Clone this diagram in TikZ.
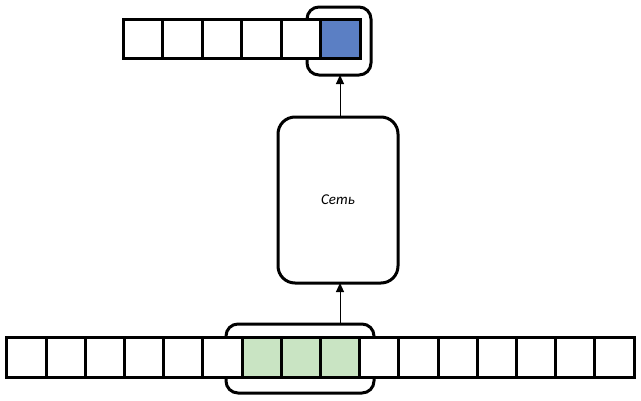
\documentclass[tikz,border=0pt]{standalone}
\usepackage{fontspec}
\setmainfont{Carlito}
\usetikzlibrary{arrows.meta}
\definecolor{cellblue}{HTML}{5B7FC4}
\definecolor{cellgreen}{HTML}{C9E4C3}
\tikzset{
  cell/.style={draw=black, line width=3pt, fill=white, minimum width=39.3pt, minimum height=39.5pt, inner sep=0pt, outer sep=0pt},
  bracket/.style={draw=black, line width=3pt, rounded corners=12pt, inner sep=0pt, outer sep=0pt},
  netbox/.style={draw=black, line width=3pt, rounded corners=17pt, fill=white, minimum width=120pt, minimum height=166pt, inner sep=0pt, outer sep=0pt, font=\itshape\fontsize{15}{18}\selectfont},
  link/.style={draw=black, line width=1pt, -{Triangle[length=9pt,width=8pt]}}
}
\begin{document}
\begin{tikzpicture}[x=1pt,y=-1pt]
\useasboundingbox (0,0) rectangle (641,400);
% brackets (behind cells)
\node[bracket, minimum width=148pt, minimum height=69pt] (bb) at (300,358.5) {};
\node[bracket, minimum width=64pt, minimum height=68pt] (bt) at (339,41) {};
% bottom row
\foreach \i in {0,...,15} {
  \pgfmathsetmacro{\cx}{7+39.2*\i+19.6}
  \ifnum\i>5 \ifnum\i<9
    \node[cell, fill=cellgreen] (b\i) at (\cx,357.5) {};
  \else
    \node[cell] (b\i) at (\cx,357.5) {};
  \fi\else
    \node[cell] (b\i) at (\cx,357.5) {};
  \fi
}
% top row
\foreach \i in {0,...,4} {
  \pgfmathsetmacro{\cx}{123+39.5*\i+19.75}
  \node[cell, minimum width=39.5pt] (t\i) at (\cx,39) {};
}
\node[cell, minimum width=39.5pt, fill=cellblue] (t5) at (340.25,39) {};
% network
\node[netbox] (net) at (338,200) {Сеть};
\coordinate (ax) at (340,0);
\draw[link] (bb.north -| ax) -- (net.south -| ax);
\draw[link] (net.north -| ax) -- (bt.south -| ax);
\end{tikzpicture}
\end{document}
